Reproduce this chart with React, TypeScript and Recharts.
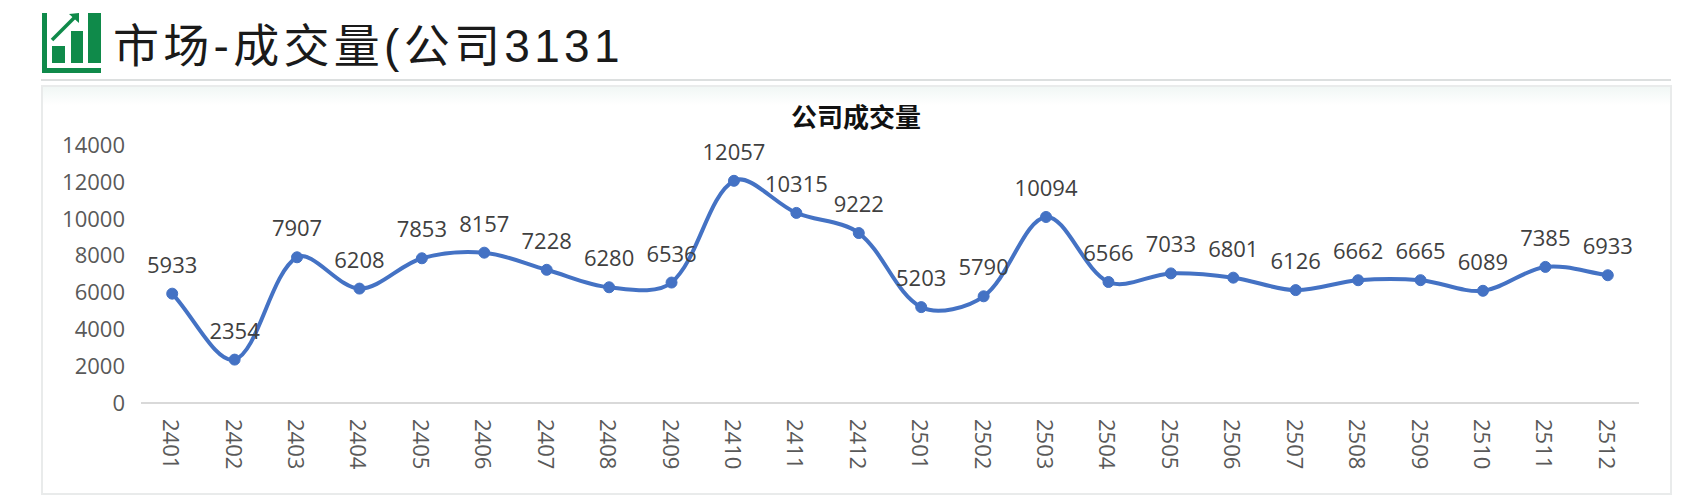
import { LabelList, Line, LineChart, XAxis, YAxis } from 'recharts';

const months = [
  '2401', '2402', '2403', '2404', '2405', '2406', '2407', '2408',
  '2409', '2410', '2411', '2412', '2501', '2502', '2503', '2504',
  '2505', '2506', '2507', '2508', '2509', '2510', '2511', '2512',
];
const volumes = [
  5933, 2354, 7907, 6208, 7853, 8157, 7228, 6280,
  6536, 12057, 10315, 9222, 5203, 5790, 10094, 6566,
  7033, 6801, 6126, 6662, 6665, 6089, 7385, 6933,
];
const yTicks = [0, 2000, 4000, 6000, 8000, 10000, 12000, 14000];

const pageTitle = '市场-成交量(公司3131';
const chartTitle = '公司成交量';

const data = months.map((month, i) => ({ month, volume: volumes[i] }));

const BLUE = '#4472C4';
const GREEN = '#0F8A4A';
const TICK = '#595959';
const FONT = '"Open Sans", "Noto Sans CJK SC", sans-serif';

const dist = (a: number[], b: number[]) => Math.hypot(a[0] - b[0], a[1] - b[1]);

// excel style smoothing: tangent split by segment length, recharts takes any curve factory
function excelSmooth(context: any) {
  let pts: [number, number][] = [];
  return {
    areaStart() {},
    areaEnd() {},
    lineStart() {
      pts = [];
    },
    point(x: number, y: number) {
      pts.push([+x, +y]);
    },
    lineEnd() {
      // handle of point i towards its neighbour at i + dir
      const handle = (i: number, dir: number) => {
        const prev = pts[Math.max(i - 1, 0)];
        const next = pts[Math.min(i + 1, pts.length - 1)];
        const near = pts[i + dir];
        const far = pts[i - dir] ?? pts[i];
        const share = dist(pts[i], near) / (dist(pts[i], near) + dist(pts[i], far));
        return [
          pts[i][0] + (dir * (next[0] - prev[0]) * share) / 3,
          pts[i][1] + (dir * (next[1] - prev[1]) * share) / 3,
        ];
      };
      pts.forEach((p, i) => {
        if (i === 0) {
          context.moveTo(p[0], p[1]);
          return;
        }
        const c1 = handle(i - 1, 1);
        const c2 = handle(i, -1);
        context.bezierCurveTo(c1[0], c1[1], c2[0], c2[1], p[0], p[1]);
      });
    },
  };
}

function MonthTick({ x, y, payload }: any) {
  return (
    <text
      transform={`translate(${x},${y}) rotate(90)`}
      textAnchor="start"
      dominantBaseline="central"
      fill={TICK}
      fontSize={22}
      fontFamily={FONT}
    >
      {payload.value}
    </text>
  );
}

function HeaderIcon() {
  return (
    <svg
      width={60}
      height={62}
      viewBox="42 13 60 62"
      style={{ position: 'absolute', left: 42, top: 13 }}
    >
      <path d="M42 13h5v55h54v5H42z" fill={GREEN} />
      <rect x={52} y={46} width={13} height={17} fill={GREEN} />
      <rect x={71} y={31} width={12} height={32} fill={GREEN} />
      <rect x={88} y={13} width={13} height={50} fill={GREEN} />
      <path d="M52 40 L75 17" stroke={GREEN} strokeWidth={3.5} fill="none" />
      <path d="M69 14 L79 13 L79 23 Z" fill={GREEN} />
    </svg>
  );
}

export default function App() {
  return (
    <div style={{ position: 'absolute', left: 0, top: 0, width: 1682, height: 497, background: '#fff', overflow: 'hidden' }}>
      <HeaderIcon />
      <div
        style={{
          position: 'absolute',
          left: 113,
          top: 16,
          fontSize: 46,
          lineHeight: '60px',
          letterSpacing: 4.3,
          color: '#1a1a1a',
          fontFamily: '"Liberation Sans", "Noto Sans CJK SC", sans-serif',
          whiteSpace: 'nowrap',
        }}
      >
        {pageTitle}
      </div>
      <div style={{ position: 'absolute', left: 41, top: 79, width: 1630, height: 2, background: '#dcdfdf' }} />
      <div
        style={{
          position: 'absolute',
          left: 41,
          top: 85,
          width: 1631,
          height: 410,
          boxSizing: 'border-box',
          border: '2px solid #e9ebeb',
          background: 'linear-gradient(#f1f7f5 0px, #ffffff 18px)',
        }}
      />
      <div
        style={{
          position: 'absolute',
          left: 41,
          width: 1630,
          top: 99,
          textAlign: 'center',
          fontSize: 26,
          lineHeight: '34px',
          fontWeight: 700,
          color: '#111',
          fontFamily: '"Noto Sans CJK SC", sans-serif',
        }}
      >
        {chartTitle}
      </div>
      <div style={{ position: 'absolute', left: 0, top: 0 }}>
        <LineChart
          width={1682}
          height={497}
          data={data}
          margin={{ top: 145, right: 43, bottom: 0, left: 0 }}
        >
          <XAxis
            dataKey="month"
            scale="band"
            interval={0}
            height={94}
            tick={<MonthTick />}
            tickLine={false}
            tickMargin={10}
            axisLine={{ stroke: '#d9d9d9', strokeWidth: 2 }}
          />
          <YAxis
            width={141}
            domain={[0, 14000]}
            ticks={yTicks}
            interval={0}
            tick={{ fill: TICK, fontSize: 22, fontFamily: FONT }}
            tickLine={false}
            axisLine={false}
            tickMargin={10}
          />
          <Line
            dataKey="volume"
            type={excelSmooth as any}
            stroke={BLUE}
            strokeWidth={4}
            dot={{ r: 5.5, fill: BLUE, stroke: BLUE, strokeWidth: 1 }}
            isAnimationActive={false}
          >
            <LabelList
              dataKey="volume"
              position="top"
              offset={21}
              fill="#404040"
              fontSize={22}
              fontFamily={FONT}
            />
          </Line>
        </LineChart>
      </div>
    </div>
  );
}
